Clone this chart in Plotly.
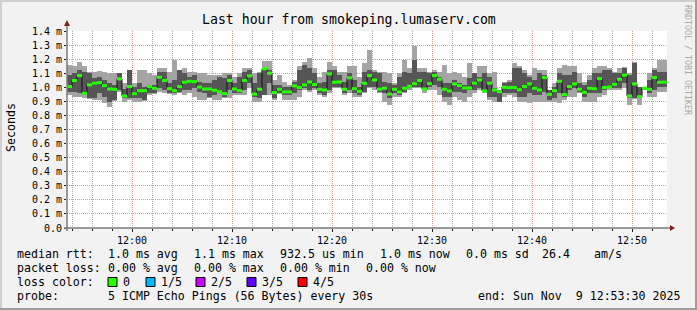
import plotly.graph_objects as go
import pandas as pd

# ---------------- data (values in milliseconds) ----------------
start_time = "2025-11-09 11:53:30"
step_seconds = 30

median_ms = [1.005, 1.048, 1.083, 0.957, 1.017, 1.029, 1.033, 1.012, 0.988, 0.986,
             1.060, 0.938, 1.005, 0.955, 0.976, 0.976, 1.005, 0.993, 1.071, 1.048,
             0.990, 0.976, 1.005, 1.036, 1.043, 1.040, 1.002, 0.988, 0.988, 0.979,
             0.969, 0.955, 1.048, 0.988, 0.976, 1.048, 1.081, 0.952, 0.986, 1.131,
             1.100, 0.962, 0.986, 0.967, 0.967, 1.010, 0.998, 1.017, 1.038, 1.019,
             0.986, 0.981, 1.095, 1.036, 1.038, 0.986, 1.067, 0.990, 0.971, 1.029,
             1.083, 1.052, 0.986, 0.993, 0.952, 0.986, 0.967, 0.993, 1.007, 1.026,
             1.048, 0.988, 1.026, 1.083, 1.057, 0.986, 0.974, 1.024, 1.012, 0.995,
             0.995, 1.029, 1.052, 0.974, 1.029, 0.981, 0.969, 1.000, 0.998, 0.998,
             0.983, 1.005, 1.024, 0.993, 0.981, 1.069, 0.950, 0.976, 1.043, 0.948,
             1.005, 1.024, 0.986, 0.964, 0.993, 0.990, 1.062, 0.998, 1.002, 1.021,
             1.057, 1.086, 0.938, 1.024, 0.933, 0.993, 0.986, 1.069, 1.036, 1.036]

# outer smoke band (lowest / highest ping)
smoke_outer_low = [0.945, 0.929, 0.933, 0.921, 0.914, 0.910, 0.910, 0.886, 0.862, 0.905,
                   0.969, 0.898, 0.910, 0.898, 0.898, 0.905, 0.945, 0.955, 0.969, 0.957,
                   0.955, 0.945, 0.957, 0.945, 0.957, 0.933, 0.910, 0.910, 0.921, 0.910,
                   0.910, 0.921, 0.921, 0.945, 0.945, 0.945, 0.993, 0.898, 0.898, 0.943,
                   0.945, 0.910, 0.955, 0.910, 0.910, 0.910, 0.933, 0.981, 0.969, 0.981,
                   0.945, 0.933, 0.957, 0.993, 0.993, 0.945, 0.957, 0.933, 0.933, 0.957,
                   0.993, 0.981, 0.957, 0.898, 0.874, 0.933, 0.933, 0.957, 0.981, 0.993,
                   0.993, 0.957, 0.981, 0.981, 0.945, 0.898, 0.874, 0.933, 0.910, 0.898,
                   0.933, 0.957, 0.981, 0.957, 0.910, 0.898, 0.895, 0.933, 0.945, 0.933,
                   0.898, 0.898, 0.886, 0.898, 0.898, 0.898, 0.898, 0.898, 0.886, 0.910,
                   0.933, 0.933, 0.957, 0.898, 0.898, 0.898, 0.933, 0.945, 0.981, 0.981,
                   0.981, 0.993, 0.874, 0.919, 0.874, 0.979, 0.933, 0.933, 0.969, 0.969]
smoke_outer_high = [1.160, 1.152, 1.183, 1.148, 1.112, 1.112, 1.117, 1.112, 1.100, 1.100,
                    1.105, 1.029, 1.124, 1.029, 1.124, 1.124, 1.100, 1.088, 1.136, 1.136,
                    1.112, 1.195, 1.124, 1.136, 1.112, 1.112, 1.100, 1.100, 1.088, 1.088,
                    1.088, 1.100, 1.100, 1.076, 1.100, 1.136, 1.136, 1.100, 1.112, 1.190,
                    1.190, 1.052, 1.088, 1.040, 1.017, 1.052, 1.148, 1.183, 1.207, 1.136,
                    1.076, 1.112, 1.183, 1.148, 1.112, 1.112, 1.148, 1.148, 1.076, 1.171,
                    1.267, 1.124, 1.112, 1.112, 1.100, 1.029, 1.100, 1.195, 1.136, 1.290,
                    1.136, 1.136, 1.112, 1.124, 1.112, 1.160, 1.100, 1.112, 1.100, 1.076,
                    1.171, 1.100, 1.152, 1.152, 1.100, 1.112, 0.981, 1.040, 1.052, 1.176,
                    1.148, 1.124, 1.088, 1.136, 1.124, 1.124, 0.981, 1.029, 1.136, 1.160,
                    1.148, 1.148, 1.100, 1.040, 1.088, 1.136, 1.148, 1.148, 1.136, 1.112,
                    1.136, 1.143, 1.100, 1.183, 1.005, 1.005, 1.100, 1.136, 1.195, 1.195]

# inner smoke band (2nd / 4th ping)
smoke_inner_low = [0.969, 0.969, 0.957, 0.957, 0.921, 0.921, 0.957, 0.933, 0.898, 0.910,
                   0.981, 0.921, 0.921, 0.921, 0.921, 0.910, 0.957, 0.957, 0.993, 0.981,
                   0.957, 0.957, 0.969, 0.981, 0.981, 0.993, 0.969, 0.957, 0.933, 0.945,
                   0.957, 0.933, 0.981, 0.957, 0.957, 0.981, 1.029, 0.933, 0.921, 0.945,
                   1.029, 0.921, 0.957, 0.945, 0.945, 0.957, 0.981, 0.993, 0.981, 0.993,
                   0.957, 0.945, 0.981, 1.005, 1.005, 0.957, 0.981, 0.957, 0.945, 0.969,
                   1.005, 1.005, 0.969, 0.957, 0.921, 0.957, 0.945, 0.969, 0.993, 1.005,
                   1.005, 0.981, 1.005, 1.017, 1.005, 0.933, 0.933, 0.969, 0.969, 0.957,
                   0.981, 0.981, 0.993, 0.969, 0.933, 0.933, 0.898, 0.957, 0.957, 0.957,
                   0.933, 0.933, 0.957, 0.945, 0.945, 0.969, 0.910, 0.921, 0.957, 0.933,
                   0.981, 0.993, 0.969, 0.933, 0.957, 0.957, 0.957, 0.981, 0.993, 0.993,
                   0.993, 1.029, 0.921, 0.921, 0.921, 0.981, 0.957, 0.981, 1.005, 1.005]
smoke_inner_high = [1.088, 1.100, 1.124, 1.112, 1.100, 1.064, 1.076, 1.052, 1.029, 1.017,
                    1.100, 0.986, 1.124, 1.005, 1.029, 1.005, 1.017, 1.017, 1.112, 1.112,
                    1.029, 1.052, 1.124, 1.100, 1.076, 1.088, 1.040, 1.029, 1.029, 1.052,
                    1.076, 1.064, 1.088, 1.029, 1.076, 1.112, 1.124, 1.029, 1.100, 1.136,
                    1.124, 1.017, 1.017, 1.005, 1.005, 1.040, 1.124, 1.160, 1.136, 1.100,
                    1.029, 1.040, 1.124, 1.124, 1.088, 1.040, 1.100, 1.052, 1.005, 1.112,
                    1.124, 1.112, 1.100, 1.040, 1.029, 1.017, 1.076, 1.112, 1.100, 1.195,
                    1.112, 1.112, 1.100, 1.112, 1.076, 1.029, 1.029, 1.052, 1.029, 1.017,
                    1.064, 1.100, 1.076, 1.100, 1.076, 0.993, 0.981, 1.029, 1.040, 1.136,
                    1.136, 1.100, 1.076, 1.052, 1.100, 1.088, 0.981, 1.005, 1.100, 1.088,
                    1.088, 1.112, 1.029, 1.017, 1.052, 1.100, 1.100, 1.124, 1.124, 1.100,
                    1.100, 1.136, 1.088, 1.171, 1.005, 1.005, 1.052, 1.124, 1.112, 1.112]

y_tick_values = [0.0, 0.1, 0.2, 0.3, 0.4, 0.5, 0.6, 0.7, 0.8, 0.9, 1.0, 1.1, 1.2, 1.3, 1.4]
y_tick_labels = ["0.0", "0.1 m", "0.2 m", "0.3 m", "0.4 m", "0.5 m", "0.6 m", "0.7 m",
                 "0.8 m", "0.9 m", "1.0 m", "1.1 m", "1.2 m", "1.3 m", "1.4 m"]

title_text = "Last hour from smokeping.lumaserv.com"
median_row = ["median rtt:", "1.0 ms avg", "1.1 ms max", "932.5 us min", "1.0 ms now",
              "0.0 ms sd", "26.4", "am/s"]
loss_row = ["packet loss:", "0.00 % avg", "0.00 % max", "0.00 % min", "0.00 % now"]
loss_color_labels = ["0", "1/5", "2/5", "3/5", "4/5"]
loss_colors = ["#26ff00", "#00b8ff", "#cc00ff", "#5e00ff", "#ff0000"]
probe_text = "5 ICMP Echo Pings (56 Bytes) every 30s"
end_text = "end: Sun Nov  9 12:53:30 2025"

# ---------------- figure geometry ----------------
W, H = 697, 310
L, R, T, B = 67, 30, 31, 82
PW, PH = W - L - R, H - T - B


def px(x):
    return (x - L) / PW


def py(y):
    return (T + PH - y) / PH


n = len(median_ms)
edges = pd.date_range(start_time, periods=n + 1, freq=f"{step_seconds}s")
centers = edges[:-1] + pd.Timedelta(seconds=step_seconds / 2)
bar_w = step_seconds * 1000

fig = go.Figure()
fig.add_trace(go.Bar(x=centers, base=smoke_outer_low,
                     y=[h - l for h, l in zip(smoke_outer_high, smoke_outer_low)],
                     width=bar_w, marker=dict(color="#a4a4a4", line=dict(width=0)),
                     hoverinfo="skip"))
fig.add_trace(go.Bar(x=centers, base=smoke_inner_low,
                     y=[h - l for h, l in zip(smoke_inner_high, smoke_inner_low)],
                     width=bar_w, marker=dict(color="#565656", line=dict(width=0)),
                     hoverinfo="skip"))
fig.add_trace(go.Scatter(x=list(edges), y=median_ms + [median_ms[-1]], mode="lines",
                         line=dict(shape="hv", color="#101010", width=1),
                         hoverinfo="skip"))
gx, gy = [], []
for i in range(n):
    gx += [edges[i], edges[i + 1], None]
    gy += [median_ms[i], median_ms[i], None]
fig.add_trace(go.Scatter(x=gx, y=gy, mode="lines",
                         line=dict(color=loss_colors[0], width=3), hoverinfo="skip"))

mono = "DejaVu Sans Mono"
grid_minor = "rgba(143,143,143,0.75)"
grid_major = "rgba(222,79,79,0.6)"

fig.update_layout(
    width=W, height=H,
    margin=dict(l=L, r=R, t=T, b=B, pad=0),
    paper_bgcolor="#f2f2f2", plot_bgcolor="#ffffff",
    showlegend=False, barmode="overlay", bargap=0,
    font=dict(family=mono, size=10, color="#000000"),
    xaxis=dict(type="date", range=[edges[0], edges[-1]], tickformat="%H:%M",
               dtick=600000, tick0="2025-11-09 12:00:00",
               showgrid=True, gridcolor=grid_major, griddash="1px,1px", gridwidth=1,
               ticks="outside", ticklen=3, tickcolor="#1f1f1f",
               tickfont=dict(family=mono, size=10),
               minor=dict(dtick=120000, tick0="2025-11-09 12:00:00", showgrid=True,
                          gridcolor=grid_minor, griddash="1px,1px",
                          ticks="outside", ticklen=2, tickcolor="#1f1f1f"),
               showline=False, zeroline=False, fixedrange=True),
    yaxis=dict(range=[0, 1.4], tickvals=y_tick_values, ticktext=y_tick_labels,
               showgrid=True, gridcolor=grid_major, griddash="1px,1px", gridwidth=1,
               ticks="outside", ticklen=2, tickcolor="#1f1f1f",
               tickfont=dict(family=mono, size=10),
               showline=False, zeroline=False, fixedrange=True),
)

shapes = []
# canvas border (shade)
shapes.append(dict(type="line", xref="paper", yref="paper", x0=px(0), x1=px(W), y0=py(1), y1=py(1),
                   line=dict(color="#cfcfcf", width=2)))
shapes.append(dict(type="line", xref="paper", yref="paper", x0=px(1), x1=px(1), y0=py(0), y1=py(H),
                   line=dict(color="#cfcfcf", width=2)))
shapes.append(dict(type="line", xref="paper", yref="paper", x0=px(0), x1=px(W), y0=py(H - 1), y1=py(H - 1),
                   line=dict(color="#9e9e9e", width=2)))
shapes.append(dict(type="line", xref="paper", yref="paper", x0=px(W - 1), x1=px(W - 1), y0=py(0), y1=py(H),
                   line=dict(color="#9e9e9e", width=2)))
# axes
shapes.append(dict(type="line", xref="paper", yref="paper", x0=px(64), x1=px(671), y0=0, y1=0,
                   line=dict(color="#7a7a7a", width=1.5)))
shapes.append(dict(type="line", xref="paper", yref="paper", x0=0, x1=0, y0=py(231), y1=py(24),
                   line=dict(color="#7a7a7a", width=1.5)))
# arrows
shapes.append(dict(type="path", xref="paper", yref="paper",
                   path=f"M {px(675)},{py(228)} L {px(670)},{py(225)} L {px(670)},{py(231)} Z",
                   fillcolor="#801f1f", line=dict(width=0)))
shapes.append(dict(type="path", xref="paper", yref="paper",
                   path=f"M {px(67)},{py(20)} L {px(64)},{py(26)} L {px(70)},{py(26)} Z",
                   fillcolor="#801f1f", line=dict(width=0)))
# loss color boxes
box_x = [108, 146, 196, 247, 298]
label_x = [122, 160, 210, 261, 312]
for bx, col in zip(box_x, loss_colors):
    shapes.append(dict(type="rect", xref="paper", yref="paper",
                       x0=px(bx), x1=px(bx + 9), y0=py(286.5), y1=py(277.5),
                       fillcolor=col, line=dict(color="#000000", width=1)))
fig.update_layout(shapes=shapes)

LF = 11.6
ann = []


def text(x, y, s, anchor="left", size=LF, color="#000000", angle=0, yanchor="middle"):
    ann.append(dict(x=px(x), y=py(y), xref="paper", yref="paper", text=s, showarrow=False,
                    xanchor=anchor, yanchor=yanchor, textangle=angle, borderpad=0,
                    font=dict(family=mono, size=size, color=color)))


text(348.5, 19, title_text, anchor="center", size=13.2)
text(11, 128, "Seconds", anchor="center", angle=-90)
text(688, 60, "RRDTOOL / TOBI OETIKER", anchor="center", size=8.3, color="#a8a8a8", angle=90)

for s, x in zip(median_row, [16, 107, 193, 279, 379, 465, 541, 593]):
    text(x, 254, s)
for s, x in zip(loss_row, [16, 107, 193, 279, 365]):
    text(x, 268, s)
text(16, 282, "loss color:")
for s, x in zip(loss_color_labels, label_x):
    text(x, 282, s)
text(16, 296, "probe:")
text(107, 296, probe_text)
text(681, 296, end_text, anchor="right")

fig.update_layout(annotations=ann)
fig.write_html("out.html")
